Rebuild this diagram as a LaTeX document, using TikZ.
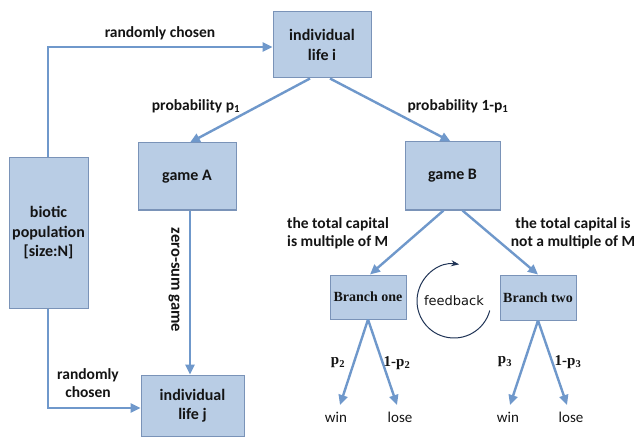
\documentclass[tikz,border=0pt]{standalone}
\usepackage{fontspec}
\setmainfont{Carlito}
\newfontfamily\serifb{Liberation Serif}
\newfontfamily\dejav{DejaVu Sans}
\usetikzlibrary{arrows.meta}
\definecolor{boxfill}{HTML}{B9CDE5}
\definecolor{boxline}{HTML}{7A93B8}
\definecolor{arr}{HTML}{6F98CB}
\definecolor{navy}{HTML}{1F3355}
\definecolor{txt}{HTML}{141414}
\tikzset{
  box/.style={draw=boxline, fill=boxfill, line width=1pt, align=center, inner sep=0pt,
    font=\bfseries\fontsize{16}{19.5}\selectfont, text=txt},
  conn/.style={draw=arr, line width=2.4pt, -{Triangle[length=10pt,width=9pt]}},
  lbl/.style={font=\bfseries\fontsize{15.5}{18}\selectfont, text=txt, align=center, inner sep=0pt},
  plain/.style={font=\fontsize{15}{17}\selectfont, text=txt, inner sep=0pt},
  pl/.style={font=\serifb\bfseries\fontsize{15}{17}\selectfont, text=txt, inner sep=0pt},
  brbox/.style={box, font=\serifb\bfseries\fontsize{14}{16}\selectfont},
}
\begin{document}
\begin{tikzpicture}[x=1pt,y=1pt]
\useasboundingbox (0,0) rectangle (636,-438);
\fill[white] (0,0) rectangle (636,-438);
% boxes
\node[box, minimum width=98pt, minimum height=66pt] (lifei) at (322,-45) {individual\\life i};
\node[box, minimum width=98pt, minimum height=67pt] (gameA) at (187,-176.5) {game A};
\node[box, minimum width=95pt, minimum height=68pt] (gameB) at (452.5,-176) {game B};
\node[box, minimum width=79pt, minimum height=150pt] (bio) at (48.5,-233) {biotic\\population\\{}[size:N]};
\node[box, minimum width=103pt, minimum height=61pt] (lifej) at (192.5,-405.5) {individual\\life j};
\node[brbox, minimum width=76pt, minimum height=44pt] (br1) at (368,-297) {Branch one};
\node[brbox, minimum width=76pt, minimum height=45pt] (br2) at (538,-297.5) {Branch two};
% outcome labels
\node[plain] (win1) at (336,-417) {win};
\node[plain] (lose1) at (400,-417) {lose};
\node[plain] (win2) at (508,-417) {win};
\node[plain] (lose2) at (571,-417) {lose};
% coordinates
\coordinate (c1) at (48,-47);
\coordinate (c2) at (48,-408);
\coordinate (w1) at (340,-405);
\coordinate (l1) at (397,-405);
\coordinate (w2) at (510,-405);
\coordinate (l2) at (567,-405);
% connectors
\draw[conn] (bio.north -| c1) -- (c1) -- (lifei.west |- c1);
\draw[conn] (bio.south -| c2) -- (c2) -- (lifej.west |- c2);
\draw[conn] ([xshift=-12pt]lifei.south) -- ([xshift=3pt]gameA.north);
\draw[conn] ([xshift=8pt]lifei.south) -- ([xshift=-2pt]gameB.north);
\draw[conn] ([xshift=3pt]gameA.south) -- ([xshift=-2.5pt]lifej.north);
\draw[conn] ([xshift=-9pt]gameB.south) -- ([xshift=2pt]br1.north);
\draw[conn] ([xshift=10pt]gameB.south) -- ([xshift=0pt]br2.north);
\draw[conn] (br1.south) -- (w1);
\draw[conn] (br1.south) -- (l1);
\draw[conn] (br2.south) -- (w2);
\draw[conn] (br2.south) -- (l2);
% labels
\node[lbl] (t1) at (160,-33) {randomly chosen};
\node[lbl] (t2) at (88,-383) {randomly\\chosen};
\node[lbl] (t3) at (196,-106) {probability p\textsubscript{1}};
\node[lbl] (t4) at (458,-106) {probability 1-p\textsubscript{1}};
\node[lbl, rotate=-90, font=\bfseries\fontsize{16.5}{18}\selectfont] (t5) at (174,-280) {zero-sum game};
\node[lbl, align=left] (t6) at (338,-233) {the total capital\\is multiple of M};
\node[lbl] (t7) at (573,-233) {the total capital is\\not a multiple of M};
\node[pl] (t8) at (338,-363) {p\textsubscript{2}};
\node[pl] (t9) at (397,-363) {1-p\textsubscript{2}};
\node[pl] (t10) at (505,-362) {p\textsubscript{3}};
\node[pl] (t11) at (568,-362) {1-p\textsubscript{3}};
% feedback
\node[font=\dejav\fontsize{13}{15}\selectfont, text=txt, inner sep=0pt] (fb) at (454,-301) {feedback};
\draw[navy, line width=1pt, -{Stealth[length=8pt,width=6pt]}] ([shift={(-15:37pt)}]fb.center) arc[start angle=-15, end angle=-278, radius=37pt];
\end{tikzpicture}
\end{document}
